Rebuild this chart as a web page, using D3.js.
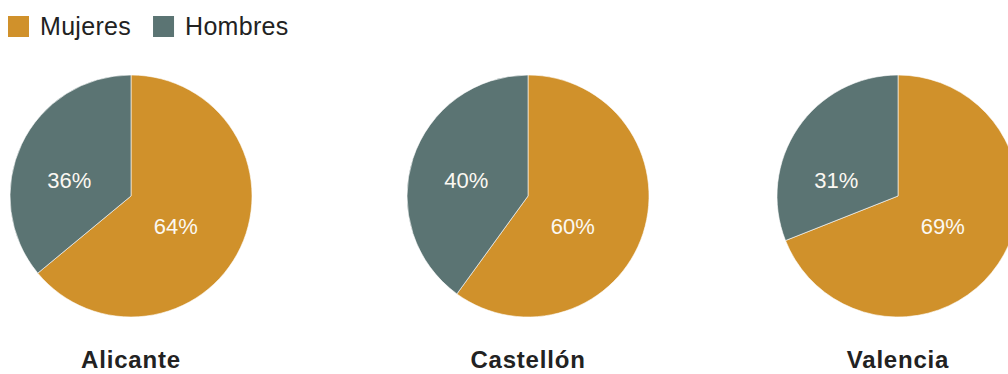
<!DOCTYPE html>
<html>
<head>
<meta charset="utf-8">
<script src="https://cdn.jsdelivr.net/npm/d3@7/dist/d3.min.js"></script>
<style>
  html, body { margin: 0; padding: 0; background: #fff; overflow: hidden; }
  svg { display: block; font-family: "Liberation Sans", Arial, sans-serif; }
</style>
</head>
<body>
<svg id="chart" width="1008" height="374"></svg>
<script>
const cities = ["Alicante", "Castellón", "Valencia"];
const seriesNames = ["Mujeres", "Hombres"];
const mujeres = [64, 60, 69];
const hombres = [36, 40, 31];
const colors = ["#D0912B", "#5B7473"];

const W = 1008, H = 374;
const svg = d3.select("#chart");
const colCenters = [131, 528, 898];
const xScale = d3.scaleOrdinal().domain(cities).range(colCenters);
const color = d3.scaleOrdinal().domain(seriesNames).range(colors);
const R = 121, cy = 196;

// legend
const legend = svg.append("g");
let lx = 8;
seriesNames.forEach((name, i) => {
  const g = legend.append("g").attr("transform", `translate(${lx},16)`);
  g.append("rect").attr("width", 21).attr("height", 21).attr("fill", color(name));
  const t = g.append("text").attr("x", 32).attr("y", 19)
    .attr("font-size", 25).attr("letter-spacing", "0.3px").attr("fill", "#222").text(name);
  lx += 32 + t.node().getComputedTextLength() + 22;
});

const pie = d3.pie().sort(null).value(d => d.value);
const arc = d3.arc().innerRadius(0).outerRadius(R);
const labelOffset = { "Mujeres": [0.37 * R, 0.25 * R], "Hombres": [-0.51 * R, -0.13 * R] };

cities.forEach((city, i) => {
  const data = [
    { name: "Mujeres", value: mujeres[i] },
    { name: "Hombres", value: hombres[i] }
  ];
  const g = svg.append("g").attr("transform", `translate(${xScale(city)},${cy})`);
  const arcs = pie(data);
  g.selectAll("path").data(arcs).join("path")
    .attr("d", arc)
    .attr("fill", d => color(d.data.name))
    .attr("stroke", "#fff").attr("stroke-width", 0.6);
  g.selectAll("text.pct").data(arcs).join("text")
    .attr("class", "pct")
    .attr("x", d => labelOffset[d.data.name][0])
    .attr("y", d => labelOffset[d.data.name][1])
    .attr("dy", "0.36em")
    .attr("text-anchor", "middle")
    .attr("font-size", 22)
    .attr("fill", "#fbf8f2")
    .text(d => d.data.value + "%");
  svg.append("text")
    .attr("x", xScale(city))
    .attr("y", 368)
    .attr("text-anchor", "middle")
    .attr("font-size", 24)
    .attr("font-weight", "bold")
    .attr("letter-spacing", "0.8px")
    .attr("fill", "#222")
    .text(city);
});
</script>
</body>
</html>
